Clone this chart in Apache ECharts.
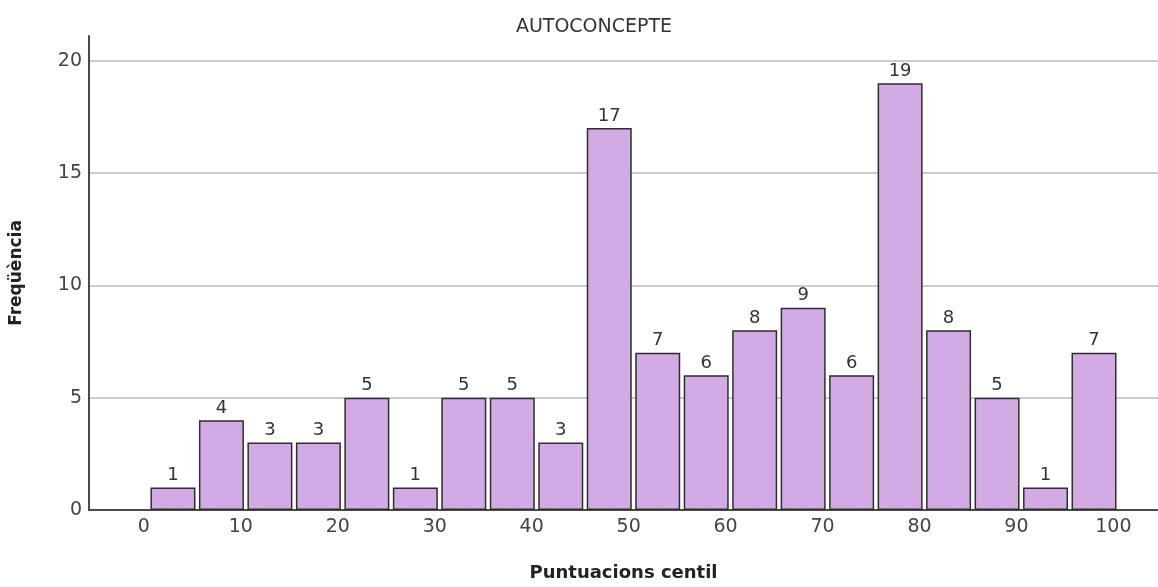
<!DOCTYPE html>
<html>
<head>
<meta charset="utf-8">
<script src="https://cdn.jsdelivr.net/npm/echarts@6/dist/echarts.min.js"></script>
<style>
html,body{margin:0;padding:0;background:#fff;}
#chart{width:1158px;height:587px;}
</style>
</head>
<body>
<div id="chart"></div>
<script>
const binCenters = [3, 8, 13, 18, 23, 28, 33, 38, 43, 48, 53, 58, 63, 68, 73, 78, 83, 88, 93, 98];
const frequencies = [1, 4, 3, 3, 5, 1, 5, 5, 3, 17, 7, 6, 8, 9, 6, 19, 8, 5, 1, 7];
const xTickLabels = [0, 10, 20, 30, 40, 50, 60, 70, 80, 90, 100];
const yTickLabels = [0, 5, 10, 15, 20];

const chart = echarts.init(document.getElementById('chart'), null, {renderer: 'canvas'});
const font = 'DejaVu Sans, Verdana, sans-serif';
chart.setOption({
  animation: false,
  backgroundColor: '#fff',
  title: {
    text: 'AUTOCONCEPTE',
    left: 589, top: 13, textAlign: 'center',
    textStyle: {fontFamily: font, fontSize: 19, fontWeight: 'normal', color: '#333'}
  },
  grid: {left: 87, right: 0, top: 36, bottom: 62, containLabel: false},
  xAxis: {
    type: 'value', min: -5.66, max: 104.6,
    name: 'Puntuacions centil', nameLocation: 'middle', nameGap: 54,
    nameTextStyle: {fontFamily: font, fontSize: 18, fontWeight: 'bold', color: '#222'},
    axisLine: {show: true, onZero: false, lineStyle: {color: '#4a4a4a', width: 2}},
    axisTick: {show: false, customValues: xTickLabels},
    axisLabel: {customValues: xTickLabels, fontFamily: font, fontSize: 19, color: '#444', margin: 8},
    splitLine: {show: false}
  },
  yAxis: {
    type: 'value', min: 0, max: 21.1,
    name: 'Freqüència', nameLocation: 'middle', nameGap: 64,
    nameTextStyle: {fontFamily: font, fontSize: 17, fontWeight: 'bold', color: '#222'},
    axisLine: {show: true, onZero: false, lineStyle: {color: '#4a4a4a', width: 2}},
    axisTick: {show: false, customValues: yTickLabels},
    axisLabel: {customValues: yTickLabels, fontFamily: font, fontSize: 19, color: '#444', margin: 7},
    splitLine: {show: true, lineStyle: {color: '#cccccc', width: 2}}
  },
  series: [{
    type: 'bar',
    data: binCenters.map((c, i) => [c, frequencies[i]]),
    barWidth: 45,
    itemStyle: {color: '#d2abe5', borderColor: '#2e2e2e', borderWidth: 1.5},
    label: {show: true, position: 'top', distance: 3, fontFamily: font, fontSize: 18, color: '#333'}
  }]
});
</script>
</body>
</html>
